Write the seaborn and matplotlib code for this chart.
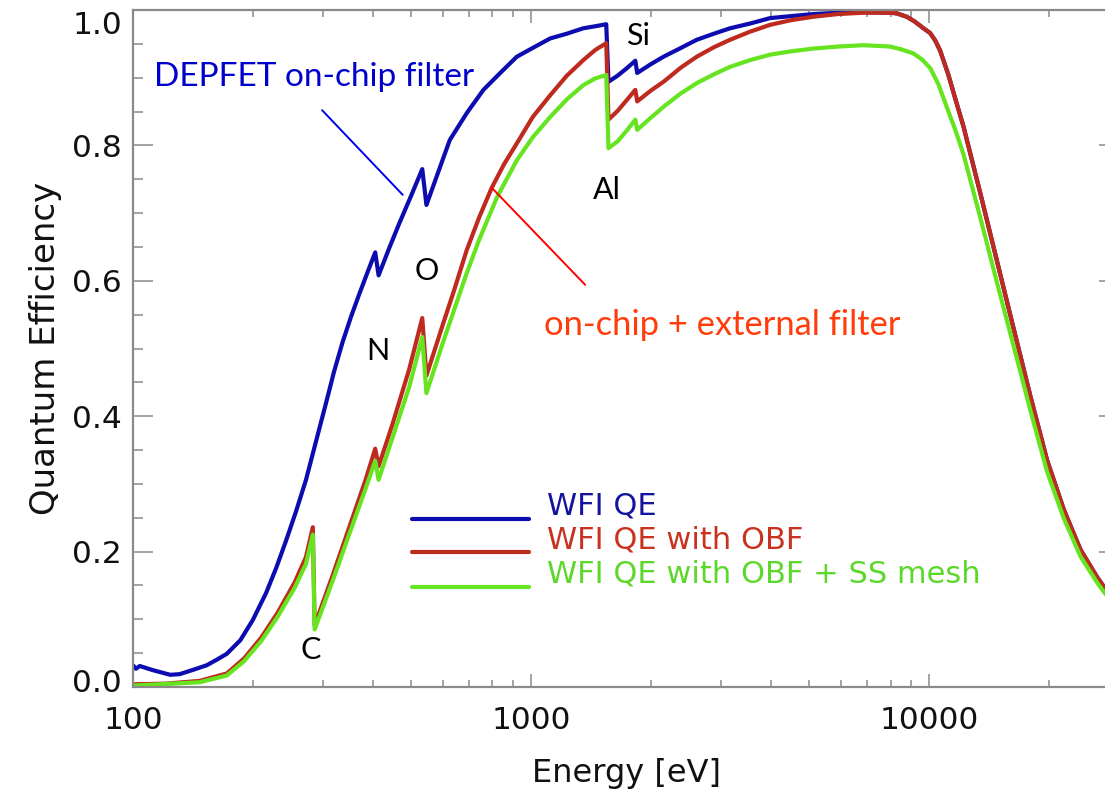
import numpy as np
import pandas as pd
import matplotlib
matplotlib.use("Agg")
import matplotlib.pyplot as plt
import matplotlib.transforms as mtransforms
from matplotlib.lines import Line2D
import seaborn as sns

# ---- quantum efficiency curves (energy in eV) ----
energy_wfi = [100, 101.7, 104, 112, 124, 131, 141, 153, 162, 172, 186, 200, 216,
              229, 242, 257, 272, 288, 305, 320, 336, 353, 370, 388, 406, 414,
              440, 466, 500, 533, 546, 580, 625, 690, 759, 840, 921, 1010, 1117,
              1230, 1353, 1450, 1545, 1565, 1650, 1740, 1828, 1848, 2000, 2152,
              2380, 2608, 2880, 3162, 3550, 3983, 4500, 5116, 5900, 6840, 7980,
              8300, 8790, 9200, 9680, 10060, 10360, 10660, 11170, 11650, 12200,
              13440, 14800, 16300, 17960, 19790, 21800, 24000, 26450, 28500]
qe_wfi = [0.032, 0.027, 0.031, 0.025, 0.018, 0.019, 0.025, 0.032, 0.040, 0.049,
          0.069, 0.099, 0.139, 0.176, 0.215, 0.260, 0.306, 0.362, 0.418, 0.466,
          0.509, 0.547, 0.580, 0.612, 0.642, 0.608, 0.648, 0.684, 0.726, 0.765,
          0.712, 0.755, 0.808, 0.848, 0.882, 0.908, 0.931, 0.944, 0.958, 0.965,
          0.973, 0.976, 0.979, 0.894, 0.903, 0.914, 0.925, 0.907, 0.920, 0.931,
          0.944, 0.956, 0.965, 0.973, 0.980, 0.988, 0.991, 0.994, 0.996, 0.997,
          0.996, 0.995, 0.990, 0.983, 0.973, 0.966, 0.955, 0.940, 0.905, 0.868,
          0.828, 0.730, 0.630, 0.530, 0.430, 0.335, 0.262, 0.203, 0.162, 0.135]

energy_obf = [100, 121, 147, 172, 190, 210, 231, 255, 272, 283, 286, 317, 349,
              384, 406, 414, 448, 494, 533, 546, 600, 640, 689, 740, 796, 855,
              921, 1010, 1117, 1230, 1353, 1450, 1545, 1565, 1650, 1740, 1828,
              1848, 2000, 2152, 2380, 2608, 2880, 3162, 3550, 3983, 4500, 5116,
              5900, 6840, 7980, 8300, 8790, 9200, 9680, 10060, 10360, 10660,
              11170, 11650, 12200, 13440, 14800, 16300, 17960, 19790, 21800,
              24000, 26450, 28500]
qe_obf = [0.004, 0.005, 0.009, 0.020, 0.042, 0.073, 0.110, 0.155, 0.192, 0.236,
          0.091, 0.164, 0.235, 0.306, 0.352, 0.326, 0.387, 0.469, 0.545, 0.460,
          0.535, 0.585, 0.645, 0.693, 0.737, 0.772, 0.803, 0.842, 0.874, 0.903,
          0.926, 0.941, 0.951, 0.838, 0.851, 0.867, 0.882, 0.865, 0.881, 0.894,
          0.915, 0.931, 0.945, 0.956, 0.968, 0.978, 0.985, 0.990, 0.994, 0.996,
          0.996, 0.995, 0.990, 0.983, 0.973, 0.966, 0.955, 0.940, 0.905, 0.868,
          0.828, 0.730, 0.630, 0.530, 0.430, 0.335, 0.262, 0.203, 0.162, 0.135]

energy_mesh = [100, 147, 172, 190, 210, 231, 255, 272, 283, 286, 317, 349, 384,
               406, 414, 448, 494, 533, 546, 600, 640, 689, 740, 822, 921, 1010,
               1117, 1230, 1353, 1450, 1545, 1565, 1650, 1740, 1828, 1848, 2000,
               2152, 2380, 2608, 2880, 3162, 3550, 3983, 4500, 5116, 5900, 6840,
               7980, 8500, 9120, 9600, 10070, 10560, 11070, 11650, 12200, 13440,
               14800, 16300, 17960, 19790, 21800, 24000, 26450, 28500]
qe_mesh = [0.002, 0.007, 0.017, 0.038, 0.068, 0.104, 0.147, 0.182, 0.225, 0.085,
           0.156, 0.225, 0.293, 0.334, 0.306, 0.367, 0.443, 0.517, 0.434, 0.508,
           0.556, 0.611, 0.660, 0.724, 0.778, 0.812, 0.842, 0.868, 0.889, 0.899,
           0.904, 0.796, 0.806, 0.822, 0.838, 0.823, 0.841, 0.857, 0.877, 0.892,
           0.905, 0.916, 0.926, 0.934, 0.939, 0.943, 0.946, 0.948, 0.946, 0.942,
           0.936, 0.927, 0.914, 0.890, 0.857, 0.822, 0.787, 0.694, 0.598, 0.504,
           0.409, 0.318, 0.249, 0.193, 0.154, 0.128]

series_names = ["WFI QE", "WFI QE with OBF", "WFI QE with OBF + SS mesh"]
line_colors = ["#0c0cb0", "#bf2a1e", "#66e41f"]
text_colors = ["#14149e", "#c8321e", "#5cd82a"]

# absorption edge labels: (text, energy, qe)
edge_labels = [("C", 280, 0.055), ("N", 413, 0.496), ("O", 548, 0.614),
               ("Al", 1553, 0.734), ("Si", 1858, 0.962)]

x_ticks = [100, 1000, 10000]
x_tick_labels = ["100", "1000", "10000"]
y_ticks = [0.0, 0.2, 0.4, 0.6, 0.8, 1.0]
y_tick_labels = ["0.0", "0.2", "0.4", "0.6", "0.8", "1.0"]

# ---- build long-form table ----
frames = []
for name, e, q in zip(series_names, [energy_wfi, energy_obf, energy_mesh],
                      [qe_wfi, qe_obf, qe_mesh]):
    frames.append(pd.DataFrame({"Energy": e, "QE": q, "series": name}))
data = pd.concat(frames, ignore_index=True)

sns.set_style("ticks")
plt.rcParams["font.family"] = ["DejaVu Sans"]

W, H = 1105, 789
fig = plt.figure(figsize=(W / 100, H / 100), dpi=100)
# axes run to 30 keV; the right spine sits just past the figure edge
ax = fig.add_axes([133 / W, (H - 687) / H, (1119 - 133) / W, (687 - 10) / H])

sns.lineplot(data=data, x="Energy", y="QE", hue="series", hue_order=series_names,
             palette=line_colors, sort=False, estimator=None, units="series",
             linewidth=3.0, legend=False, ax=ax)
for ln in ax.get_lines():
    ln.set_solid_joinstyle("round")

ax.set_xscale("log")
ax.set_xlim(100, 30000)
ax.set_ylim(0, 1.0)

ax.set_xticks(x_ticks)
ax.set_xticklabels(x_tick_labels)
ax.xaxis.set_minor_locator(matplotlib.ticker.LogLocator(base=10, subs=np.arange(2, 10)))
ax.xaxis.set_minor_formatter(matplotlib.ticker.NullFormatter())
ax.set_yticks(y_ticks)
ax.set_yticklabels(y_tick_labels)
ax.yaxis.set_minor_locator(matplotlib.ticker.MultipleLocator(0.05))

spine_col = "#8a8a8a"
for s in ax.spines.values():
    s.set_color(spine_col)
    s.set_linewidth(1.6)
ax.tick_params(which="both", direction="in", top=True, right=True,
               color=spine_col, width=1.1, labelsize=22.5, labelcolor="#111111")
ax.tick_params(axis="x", which="major", length=9.5, pad=14)
ax.tick_params(axis="x", which="minor", length=5)
ax.tick_params(axis="y", which="major", length=14.5, pad=8)
ax.tick_params(axis="y", which="minor", length=7.2)

# end labels of the y axis sit slightly inside the axis range
ylabs = ax.get_yticklabels()
ylabs[0].set_transform(ylabs[0].get_transform() +
                       mtransforms.ScaledTranslation(0, 7 / 100, fig.dpi_scale_trans))
ylabs[-1].set_transform(ylabs[-1].get_transform() +
                        mtransforms.ScaledTranslation(0, -12 / 100, fig.dpi_scale_trans))

ax.set_xlabel("Energy [eV]", fontsize=23, color="#111111", labelpad=16)
ax.set_ylabel("Quantum Efficiency", fontsize=24.5, color="#111111", labelpad=7)

# legend drawn as short line segments with coloured labels
leg_y = [519, 552, 587]
for name, lc, tc, yy in zip(series_names, line_colors, text_colors, leg_y):
    fy = (H - yy) / H
    fig.add_artist(Line2D([412 / W, 529 / W], [fy, fy], color=lc, linewidth=3.0))
    fig.text(547 / W, fy + 4 / H, name, color=tc, fontsize=22,
             ha="left", va="baseline")

# absorption edge labels
for lab, e, q in edge_labels:
    ax.text(e, q, lab, fontsize=22, family="Lato", color="black",
            ha="center", va="center")

# filter annotations
ax.text(285, 0.901, "DEPFET on-chip filter", fontsize=24, family="Lato",
        color="#0000cc", ha="center", va="center")
ax.plot([298.6, 476], [0.852, 0.727], color="#0000ee", linewidth=1.4)
ax.text(3020, 0.535, "on-chip + external filter", fontsize=24.8, family="Lato",
        color="#ff3c0a", ha="center", va="center")
ax.plot([798, 1368], [0.737, 0.594], color="#ff0000", linewidth=1.4)

fig.savefig("out.png", dpi=100)
